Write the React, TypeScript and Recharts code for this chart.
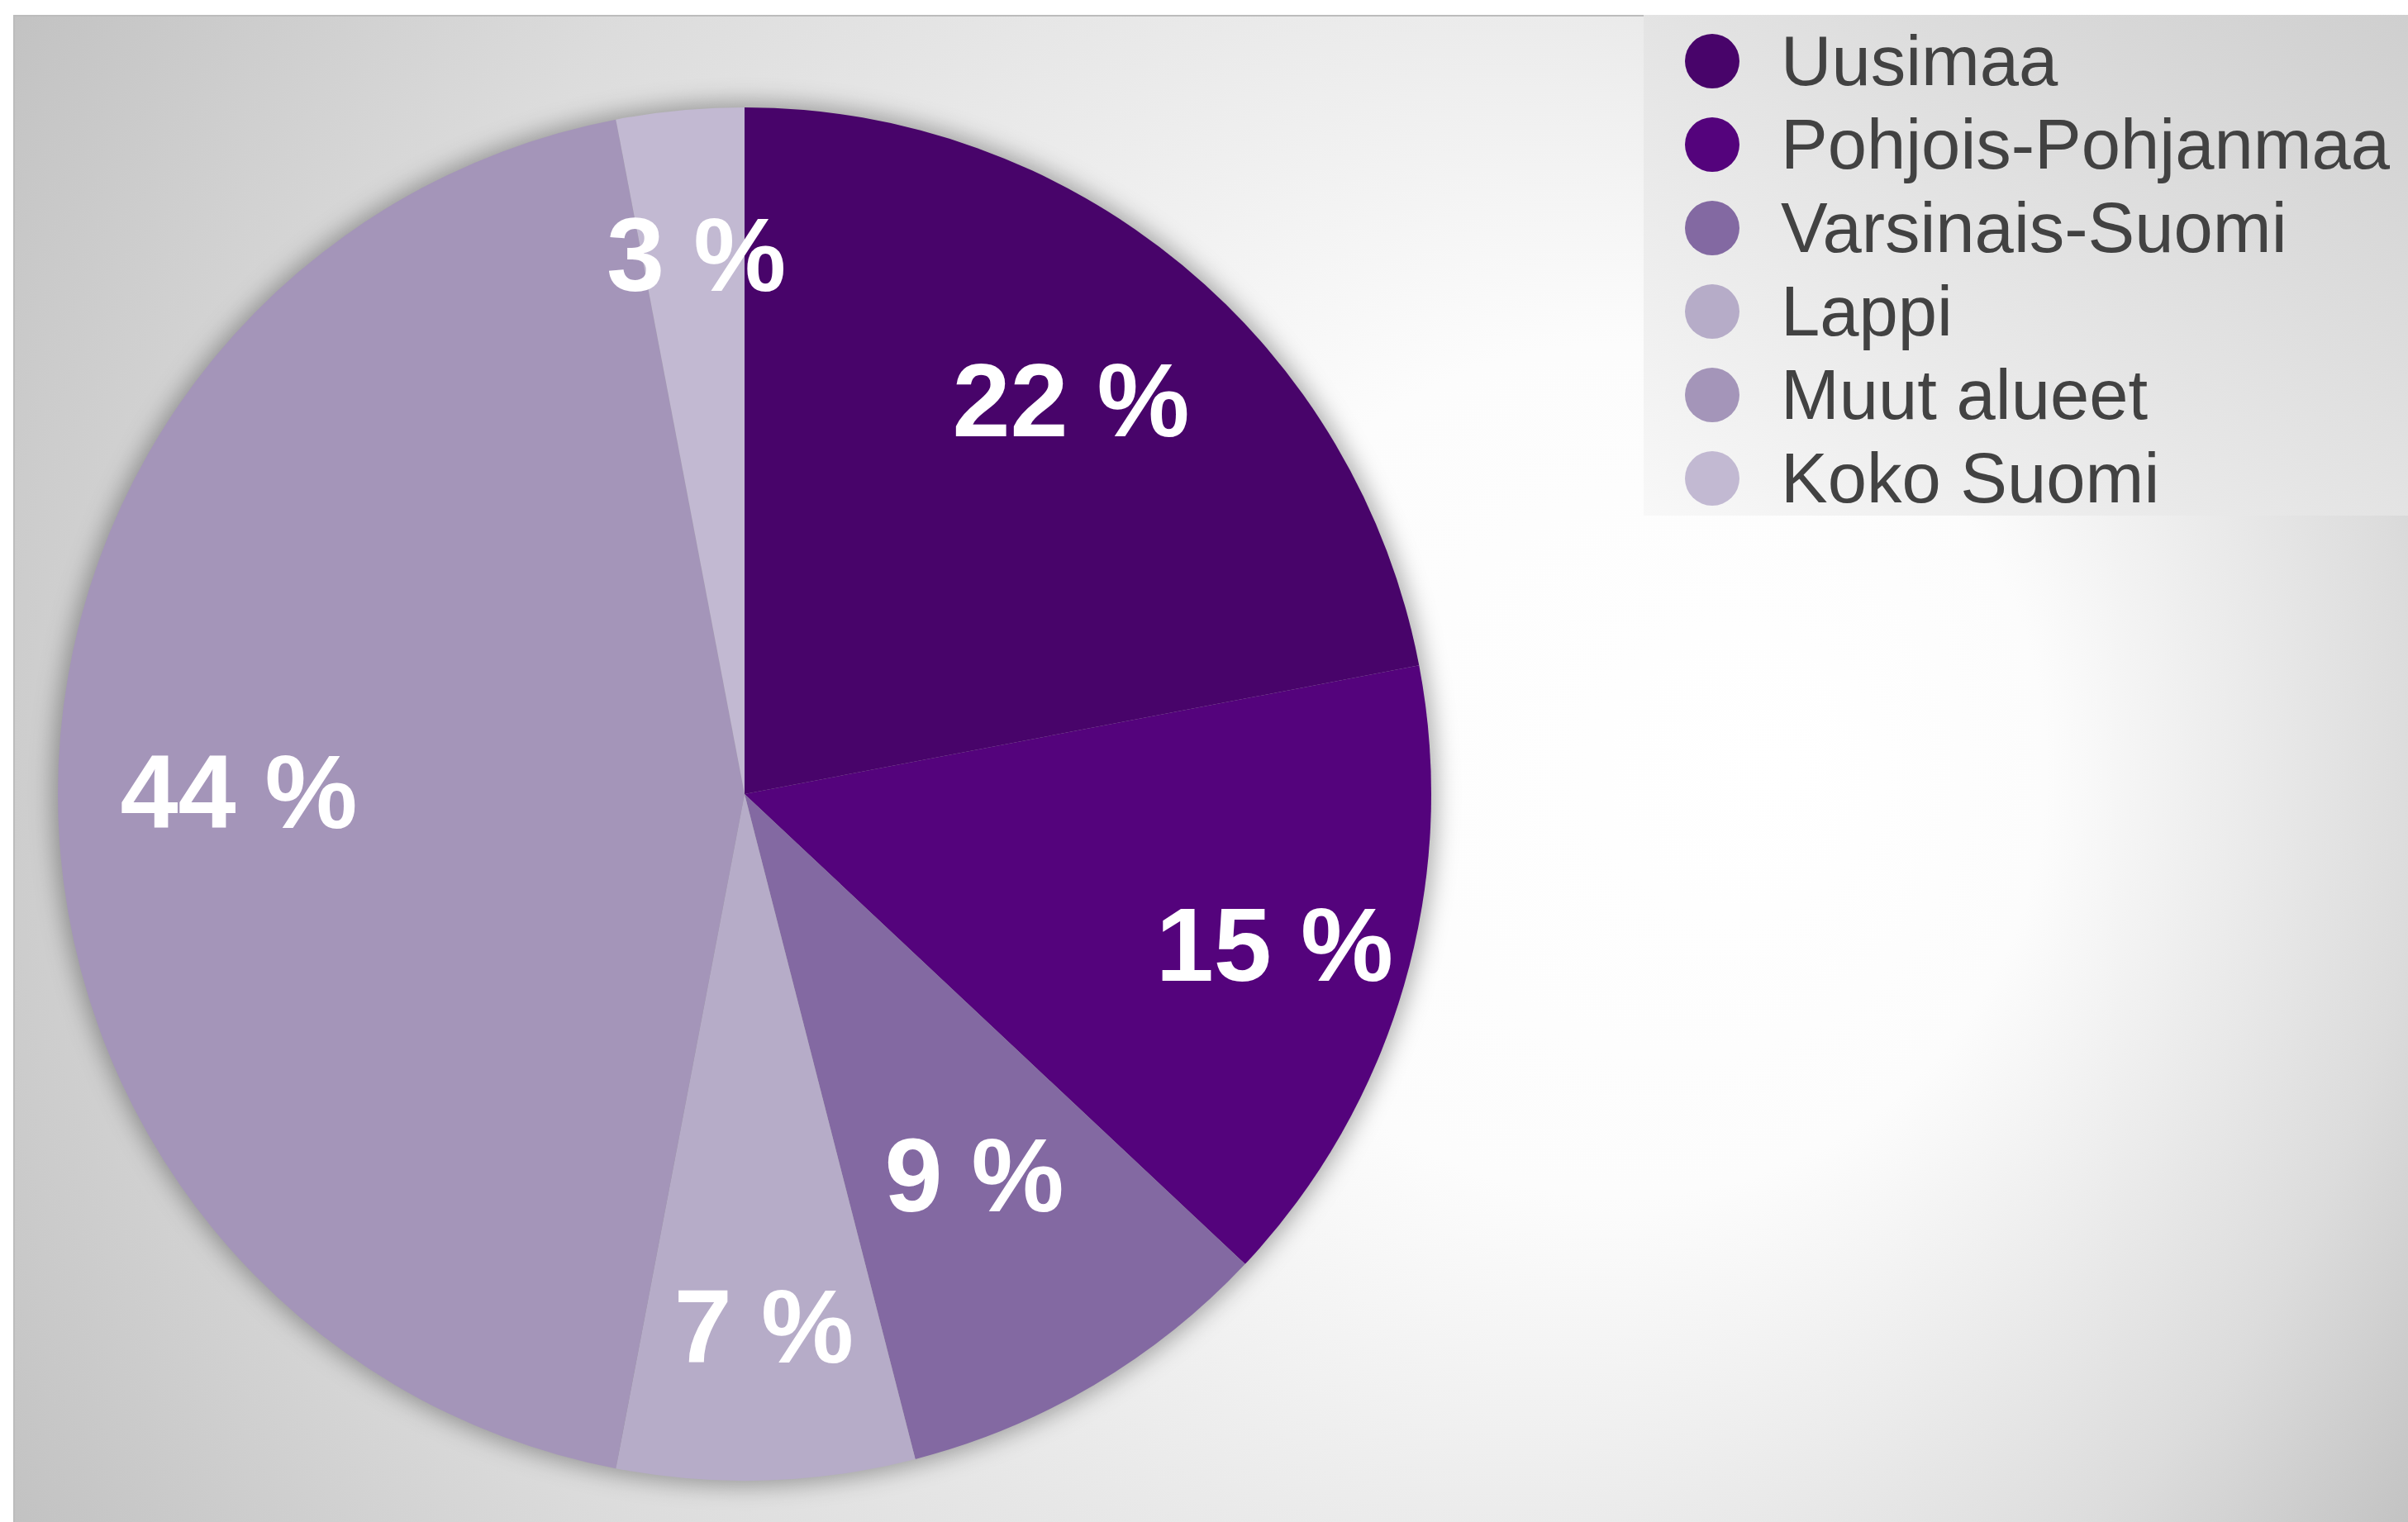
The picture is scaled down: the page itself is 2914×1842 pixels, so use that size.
import { PieChart, Pie, Cell, Legend } from 'recharts'

const REGIONS = [
  'Uusimaa',
  'Pohjois-Pohjanmaa',
  'Varsinais-Suomi',
  'Lappi',
  'Muut alueet',
  'Koko Suomi',
]
const SHARES = [22, 15, 9, 7, 44, 3]
const COLORS = ['#48046a', '#54037c', '#8369a2', '#b6acc8', '#a495b9', '#c2b9d2']

// how far out each percent label sits, as a share of the radius
const LABEL_RADIUS = [0.74, 0.8, 0.65, 0.78, 0.74, 0.785]

const W = 2914
const H = 1842
const CX = 901
const CY = 961
const R = 831
const FONT = '"Liberation Sans", Arial, Helvetica, sans-serif'
const RAD = Math.PI / 180

const chartData = REGIONS.map((name, i) => ({ name, value: SHARES[i] }))
const shadowData = [{ name: 'shadow', value: 1 }]

function renderLabel(props: any) {
  const { cx, cy, midAngle, outerRadius, index, value } = props
  const r = outerRadius * LABEL_RADIUS[index]
  const x = cx + r * Math.cos(-midAngle * RAD)
  const y = cy + r * Math.sin(-midAngle * RAD)
  return (
    <text
      x={x + 3}
      y={y - 3}
      fill="#ffffff"
      textAnchor="middle"
      dominantBaseline="central"
      fontFamily={FONT}
      fontWeight="bold"
      fontSize={126}
    >
      {value} %
    </text>
  )
}

function LegendBox() {
  return (
    <div
      style={{
        width: 925,
        height: 606,
        boxSizing: 'border-box',
        paddingTop: 5,
        background: 'linear-gradient(to top right, #f8f8f8, #cfcfcf)',
        fontFamily: FONT,
      }}
    >
      {REGIONS.map((name, i) => (
        <div key={name} style={{ display: 'flex', alignItems: 'center', height: 101 }}>
          <span
            style={{
              width: 66,
              height: 66,
              marginLeft: 50,
              borderRadius: '50%',
              background: COLORS[i],
              flexShrink: 0,
            }}
          />
          <span style={{ marginLeft: 50, fontSize: 85, lineHeight: 1, color: '#424242' }}>
            {name}
          </span>
        </div>
      ))}
    </div>
  )
}

export default function App() {
  return (
    <div
      style={{
        position: 'absolute',
        left: 0,
        top: 0,
        width: W,
        height: H,
        background: '#ffffff',
        overflow: 'hidden',
      }}
    >
      <style>{'.pie-shadow path { filter: url(#pieShadow); }'}</style>
      <div
        style={{
          position: 'absolute',
          left: 16,
          top: 18,
          right: 0,
          bottom: 0,
          borderLeft: '2px solid #bcbcbc',
          borderTop: '2px solid #bcbcbc',
        }}
      >
        <svg width={W} height={H} style={{ display: 'block' }}>
          <defs>
            <radialGradient
              id="bgGlow"
              gradientUnits="userSpaceOnUse"
              cx={1449}
              cy={912}
              r={1720}
              fx={2154}
              fy={912}
            >
              <stop offset="0" stopColor="#ffffff" />
              <stop offset="0.3" stopColor="#fcfcfc" />
              <stop offset="0.74" stopColor="#dcdcdc" />
              <stop offset="1" stopColor="#c2c2c2" />
            </radialGradient>
            <filter id="pieShadow" x="-10%" y="-10%" width="120%" height="120%">
              <feGaussianBlur stdDeviation="14" />
            </filter>
          </defs>
          <rect x={0} y={0} width={W} height={H} fill="url(#bgGlow)" />
        </svg>
      </div>
      <div style={{ position: 'absolute', left: 0, top: 0 }}>
        <PieChart width={W} height={H} margin={{ top: 0, right: 0, bottom: 0, left: 0 }}>
          <Pie
            className="pie-shadow"
            data={shadowData}
            dataKey="value"
            cx={CX}
            cy={CY}
            outerRadius={R + 6}
            fill="#000000"
            fillOpacity={0.32}
            stroke="none"
            legendType="none"
            isAnimationActive={false}
          />
          <Pie
            data={chartData}
            dataKey="value"
            nameKey="name"
            cx={CX}
            cy={CY}
            outerRadius={R}
            startAngle={90}
            endAngle={-270}
            stroke="none"
            label={renderLabel}
            labelLine={false}
            isAnimationActive={false}
          >
            {chartData.map((entry, i) => (
              <Cell key={entry.name} fill={COLORS[i]} />
            ))}
          </Pie>
          <Legend
            layout="vertical"
            align="right"
            verticalAlign="top"
            content={() => <LegendBox />}
            wrapperStyle={{ left: 1989, top: 18, width: 925, height: 606, right: 'auto' }}
          />
        </PieChart>
      </div>
    </div>
  )
}
